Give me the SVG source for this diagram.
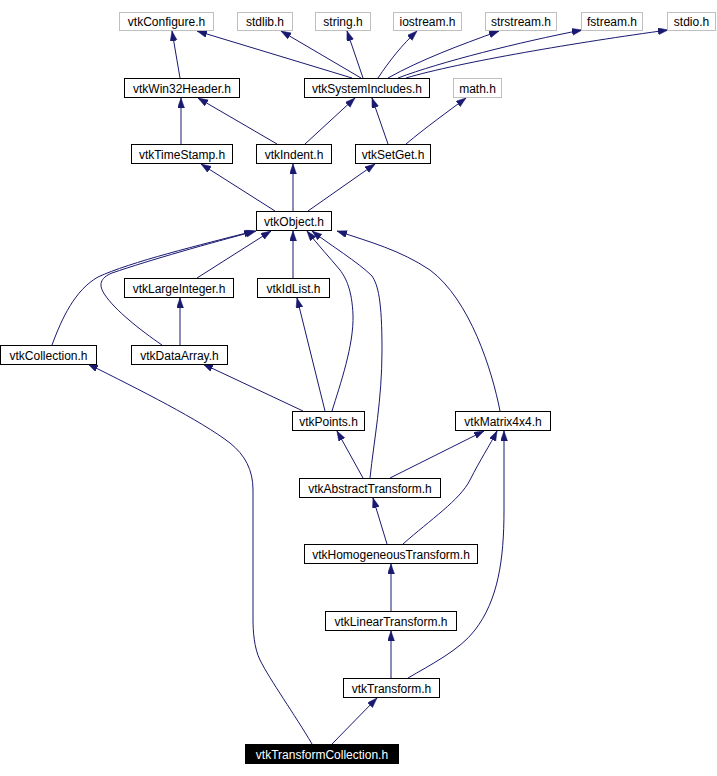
<svg xmlns="http://www.w3.org/2000/svg" width="717" height="776" viewBox="0 0 717 776">
<style>
.n rect{fill:#fff;stroke:#000;stroke-width:1}
.g rect{fill:#fff;stroke:#bfbfbf;stroke-width:1}
.k rect{fill:#000;stroke:#000;stroke-width:1}
text{font-family:"Liberation Sans",Arial,sans-serif;font-size:12px;text-anchor:middle;fill:#000}
.k text{fill:#fff}
#edges path{fill:none;stroke:#191970;stroke-width:1;marker-end:url(#ah)}
</style>
<defs>
<marker id="ah" markerUnits="userSpaceOnUse" markerWidth="11" markerHeight="8" refX="10" refY="3.5" orient="auto">
<path d="M0,0 L10,3.5 L0,7 z" fill="#191970" stroke="#191970" stroke-width="0.5"/>
</marker>
</defs>
<rect width="717" height="776" fill="#fff"/>
<g id="edges">
<path d="M180,78 L172,31"/>
<path d="M352,78 L197,31"/>
<path d="M361,78 L281,31"/>
<path d="M363,78 L347,31"/>
<path d="M378,78 C390,60 402,45 417,31"/>
<path d="M388,78 C420,60 460,45 499,31"/>
<path d="M398,78 C440,62 520,42 582,30"/>
<path d="M406,78 C460,62 580,42 668,30"/>
<path d="M181,144 L181,98"/>
<path d="M277,144 L198,98"/>
<path d="M305,144 L355,98"/>
<path d="M388,144 L372,98"/>
<path d="M406,144 C425,128 450,110 466,98"/>
<path d="M275,211 L201,164"/>
<path d="M293,211 L293,164"/>
<path d="M308,211 L375,164"/>
<path d="M197,278 L271,231"/>
<path d="M293,278 L293,231"/>
<path d="M52,345 C62,318 75,290 98,277 C130,262 200,245 254,231"/>
<path d="M162,345 C140,330 115,310 105,295 C98,285 100,278 112,273 C150,260 210,243 256,231"/>
<path d="M180,345 L180,298"/>
<path d="M332,411 C340,385 354,345 353,315 C352,290 346,278 340,270 C330,258 318,245 307,231"/>
<path d="M325,411 L297,298"/>
<path d="M303,411 L203,364"/>
<path d="M500,411 C492,370 470,300 430,270 C400,250 370,242 337,231"/>
<path d="M370,478 C374,440 382,400 382,350 C382,300 378,285 372,276 C358,262 330,245 312,231"/>
<path d="M363,478 L337,431"/>
<path d="M390,478 L484,431"/>
<path d="M387,544 L373,498"/>
<path d="M403,544 C430,520 460,500 470,480 C480,460 490,445 497,431"/>
<path d="M391,611 L391,564"/>
<path d="M391,678 L391,631"/>
<path d="M408,678 C430,665 460,650 475,630 C498,600 504,560 504,510 L504,431"/>
<path d="M332,744 L377,698"/>
<path d="M312,744 C295,715 270,680 260,660 C254,648 253,630 253,620 L253,490 C253,470 245,455 230,443 C200,420 140,390 88,364"/>
</g>
<g id="vtkConfigure" class="g"><rect x="119.5" y="12.5" width="94" height="18"/><text x="166.5" y="26">vtkConfigure.h</text></g>
<g id="stdlib" class="g"><rect x="237.5" y="12.5" width="55" height="18"/><text x="265" y="26">stdlib.h</text></g>
<g id="string" class="g"><rect x="315.5" y="12.5" width="55" height="18"/><text x="343" y="26">string.h</text></g>
<g id="iostream" class="g"><rect x="393.5" y="12.5" width="68" height="18"/><text x="427.5" y="26">iostream.h</text></g>
<g id="strstream" class="g"><rect x="485.5" y="12.5" width="71" height="18"/><text x="521" y="26">strstream.h</text></g>
<g id="fstream" class="g"><rect x="581.5" y="12.5" width="61" height="18"/><text x="612" y="26">fstream.h</text></g>
<g id="stdio" class="g"><rect x="667.5" y="12.5" width="48" height="18"/><text x="691.5" y="26">stdio.h</text></g>
<g id="vtkWin32Header" class="n"><rect x="124.5" y="78.5" width="115" height="19"/><text x="182" y="92.5">vtkWin32Header.h</text></g>
<g id="vtkSystemIncludes" class="n"><rect x="304.5" y="78.5" width="125" height="19"/><text x="367" y="92.5">vtkSystemIncludes.h</text></g>
<g id="math" class="g"><rect x="453.5" y="78.5" width="48" height="19"/><text x="477.5" y="92.5">math.h</text></g>
<g id="vtkTimeStamp" class="n"><rect x="131.5" y="144.5" width="101" height="19"/><text x="182" y="158.5">vtkTimeStamp.h</text></g>
<g id="vtkIndent" class="n"><rect x="256.5" y="144.5" width="75" height="19"/><text x="294" y="158.5">vtkIndent.h</text></g>
<g id="vtkSetGet" class="n"><rect x="355.5" y="144.5" width="75" height="19"/><text x="393" y="158.5">vtkSetGet.h</text></g>
<g id="vtkObject" class="n"><rect x="256.5" y="211.5" width="75" height="19"/><text x="294" y="225.5">vtkObject.h</text></g>
<g id="vtkLargeInteger" class="n"><rect x="124.5" y="278.5" width="109" height="19"/><text x="179" y="292.5">vtkLargeInteger.h</text></g>
<g id="vtkIdList" class="n"><rect x="257.5" y="278.5" width="72" height="19"/><text x="293.5" y="292.5">vtkIdList.h</text></g>
<g id="vtkCollection" class="n"><rect x="0.5" y="345.5" width="96" height="19"/><text x="48.5" y="359.5">vtkCollection.h</text></g>
<g id="vtkDataArray" class="n"><rect x="131.5" y="345.5" width="96" height="19"/><text x="179.5" y="359.5">vtkDataArray.h</text></g>
<g id="vtkPoints" class="n"><rect x="292.5" y="411.5" width="72" height="19"/><text x="328.5" y="425.5">vtkPoints.h</text></g>
<g id="vtkMatrix4x4" class="n"><rect x="455.5" y="411.5" width="95" height="19"/><text x="503" y="425.5">vtkMatrix4x4.h</text></g>
<g id="vtkAbstractTransform" class="n"><rect x="299.5" y="478.5" width="141" height="19"/><text x="370" y="492.5">vtkAbstractTransform.h</text></g>
<g id="vtkHomogeneousTransform" class="n"><rect x="304.5" y="544.5" width="173" height="19"/><text x="391" y="558.5">vtkHomogeneousTransform.h</text></g>
<g id="vtkLinearTransform" class="n"><rect x="325.5" y="611.5" width="131" height="19"/><text x="391" y="625.5">vtkLinearTransform.h</text></g>
<g id="vtkTransform" class="n"><rect x="343.5" y="678.5" width="96" height="19"/><text x="391.5" y="692.5">vtkTransform.h</text></g>
<g id="vtkTransformCollection" class="k"><rect x="245.5" y="744.5" width="153" height="19"/><text x="322" y="758.5">vtkTransformCollection.h</text></g>
</svg>
